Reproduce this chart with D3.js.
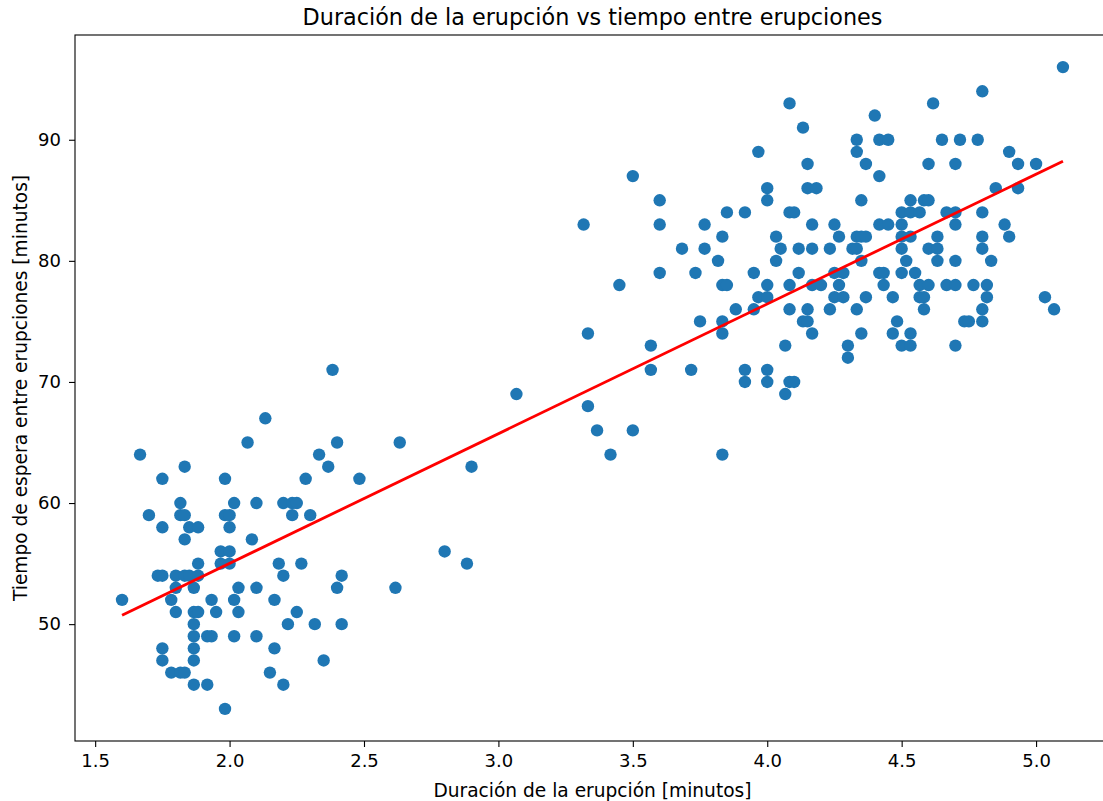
<!DOCTYPE html>
<html>
<head>
<meta charset="utf-8">
<script src="https://cdn.jsdelivr.net/npm/d3@7"></script>
<style>
  html, body { margin: 0; padding: 0; background: #fff; }
  svg { display: block; font-family: "DejaVu Sans", sans-serif; }
</style>
</head>
<body>
<div id="chart"></div>
<script>
// ── Old Faithful: duración vs espera ──

// valores (duración en minutos, espera en minutos)
const duracion = [
  1.600, 1.667, 1.700, 1.733, 1.750, 1.750, 1.750, 1.750, 1.750,
  1.783, 1.783, 1.800, 1.800, 1.800, 1.817, 1.817, 1.817, 1.833, 1.833, 1.833, 1.833, 1.833,
  1.850, 1.850, 1.867, 1.867, 1.867, 1.867, 1.867, 1.867, 1.867, 1.883, 1.883, 1.883, 1.883,
  1.917, 1.917, 1.933, 1.933, 1.950, 1.967, 1.967, 1.983, 1.983, 1.983, 2.000, 2.000, 2.000, 2.000,
  2.017, 2.017, 2.017, 2.033, 2.033, 2.067, 2.083, 2.100, 2.100, 2.100, 2.133, 2.150, 2.167, 2.167,
  2.183, 2.200, 2.200, 2.200, 2.217, 2.233, 2.233, 2.250, 2.250, 2.267, 2.283, 2.300, 2.317, 2.333,
  2.350, 2.367, 2.383, 2.400, 2.400, 2.417, 2.417, 2.483, 2.617, 2.633, 2.800, 2.883, 2.900, 3.067,
  3.317, 3.333, 3.333, 3.367, 3.417, 3.450, 3.500, 3.500, 3.567, 3.567, 3.600, 3.600, 3.600, 3.683,
  3.717, 3.733, 3.750, 3.767, 3.767, 3.817, 3.833, 3.833, 3.833, 3.833, 3.833, 3.850, 3.850, 3.883,
  3.917, 3.917, 3.917, 3.950, 3.950, 3.967, 3.967, 4.000, 4.000, 4.000, 4.000, 4.000, 4.000, 4.033,
  4.033, 4.050, 4.067, 4.067, 4.083, 4.083, 4.083, 4.083, 4.083, 4.100, 4.100, 4.117, 4.117, 4.133,
  4.133, 4.150, 4.150, 4.150, 4.150, 4.167, 4.167, 4.167, 4.167, 4.183, 4.200, 4.233, 4.233, 4.250,
  4.250, 4.250, 4.267, 4.267, 4.283, 4.283, 4.300, 4.300, 4.317, 4.333, 4.333, 4.333, 4.333, 4.333,
  4.350, 4.350, 4.350, 4.350, 4.367, 4.367, 4.367, 4.400, 4.417, 4.417, 4.417, 4.417, 4.433, 4.433,
  4.450, 4.450, 4.467, 4.467, 4.483, 4.500, 4.500, 4.500, 4.500, 4.500, 4.500, 4.517, 4.533, 4.533,
  4.533, 4.533, 4.533, 4.550, 4.567, 4.567, 4.567, 4.583, 4.583, 4.583, 4.600, 4.600, 4.600, 4.600,
  4.617, 4.633, 4.633, 4.633, 4.650, 4.667, 4.667, 4.700, 4.700, 4.700, 4.700, 4.700, 4.700, 4.717,
  4.733, 4.750, 4.767, 4.783, 4.800, 4.800, 4.800, 4.800, 4.800, 4.800, 4.817, 4.817, 4.833, 4.850,
  4.883, 4.900, 4.900, 4.933, 4.933, 5.000, 5.033, 5.067, 5.100
];
const espera = [
  52, 64, 59, 54, 54, 62, 58, 48, 47,
  52, 46, 54, 53, 51, 60, 59, 46, 54, 59, 63, 57, 46,
  54, 58, 53, 51, 50, 49, 48, 47, 45, 54, 58, 55, 51,
  49, 45, 52, 49, 51, 56, 55, 62, 59, 43, 59, 58, 56, 55,
  60, 52, 49, 53, 51, 65, 57, 60, 53, 49, 67, 46, 52, 48,
  55, 54, 60, 45, 50, 59, 60, 60, 51, 55, 62, 59, 50, 64,
  47, 63, 71, 65, 53, 54, 50, 62, 53, 65, 56, 55, 63, 69,
  83, 74, 68, 66, 64, 78, 87, 66, 73, 71, 85, 83, 79, 81,
  71, 79, 75, 83, 81, 80, 82, 78, 75, 74, 64, 84, 78, 76,
  84, 71, 70, 79, 76, 89, 77, 86, 85, 78, 77, 71, 70, 82,
  80, 81, 73, 69, 93, 84, 78, 76, 70, 84, 70, 79, 81, 91,
  75, 88, 86, 76, 75, 83, 81, 78, 74, 86, 78, 81, 76, 83,
  79, 77, 82, 78, 79, 77, 73, 72, 81, 90, 89, 82, 81, 76,
  85, 82, 80, 74, 88, 82, 77, 92, 90, 87, 83, 79, 79, 78,
  90, 83, 77, 74, 75, 84, 83, 82, 81, 79, 73, 80, 85, 84,
  82, 74, 73, 79, 84, 78, 77, 85, 77, 76, 88, 85, 81, 78,
  93, 82, 81, 80, 90, 84, 78, 88, 84, 83, 80, 78, 73, 90,
  75, 75, 78, 90, 94, 84, 82, 81, 76, 75, 78, 77, 80, 86,
  83, 89, 82, 88, 86, 88, 77, 76, 96
];

const xTicks = [1.5, 2.0, 2.5, 3.0, 3.5, 4.0, 4.5, 5.0];
const yTicks = [50, 60, 70, 80, 90];

const titulo = 'Duración de la erupción vs tiempo entre erupciones';
const xTitulo = 'Duración de la erupción [minutos]';
const yTitulo = 'Tiempo de espera entre erupciones [minutos]';

const width = 1103, height = 801;
const plot = { left: 75, right: 1110, top: 35, bottom: 741 };

const svg = d3.select('#chart')
  .append('svg')
  .attr('width', width)
  .attr('height', height);

// matplotlib-style margins: 5% of data span
const xExt = d3.extent(duracion), yExt = d3.extent(espera);
const xPad = (xExt[1] - xExt[0]) * 0.05, yPad = (yExt[1] - yExt[0]) * 0.05;

const x = d3.scaleLinear()
  .domain([xExt[0] - xPad, xExt[1] + xPad])
  .range([plot.left, plot.right]);
const y = d3.scaleLinear()
  .domain([yExt[0] - yPad, yExt[1] + yPad])
  .range([plot.bottom, plot.top]);

const puntos = duracion.map((d, i) => ({ x: d, y: espera[i] }));

// least squares fit
const mx = d3.mean(duracion), my = d3.mean(espera);
const sxy = d3.sum(puntos, p => (p.x - mx) * (p.y - my));
const sxx = d3.sum(puntos, p => (p.x - mx) ** 2);
const pendiente = sxy / sxx;
const corte = my - pendiente * mx;
const lineaX = [xExt[0], xExt[1]];

svg.append('defs').append('clipPath').attr('id', 'clip')
  .append('rect')
  .attr('x', plot.left).attr('y', plot.top)
  .attr('width', plot.right - plot.left).attr('height', plot.bottom - plot.top);

const g = svg.append('g').attr('clip-path', 'url(#clip)');

g.append('g')
  .selectAll('circle')
  .data(puntos)
  .join('circle')
  .attr('cx', d => x(d.x))
  .attr('cy', d => y(d.y))
  .attr('r', 6.2)
  .attr('fill', '#1f77b4');

g.append('path')
  .datum(lineaX)
  .attr('fill', 'none')
  .attr('stroke', '#ff0000')
  .attr('stroke-width', 2.8)
  .attr('d', d3.line().x(d => x(d)).y(d => y(corte + pendiente * d)));

// Axes
const xAxis = svg.append('g')
  .attr('transform', `translate(0,${plot.bottom})`)
  .call(d3.axisBottom(x).tickValues(xTicks).tickFormat(d3.format('.1f')).tickSize(6).tickPadding(7));
const yAxis = svg.append('g')
  .attr('transform', `translate(${plot.left},0)`)
  .call(d3.axisLeft(y).tickValues(yTicks).tickFormat(d3.format('d')).tickSize(6).tickPadding(8));

[xAxis, yAxis].forEach(a => {
  a.select('.domain').remove();
  a.selectAll('line').attr('stroke', '#000').attr('stroke-width', 1.1);
  a.selectAll('text').attr('fill', '#000').style('font-size', '18px')
    .style('font-family', '"DejaVu Sans", sans-serif');
});

// Spines (left, bottom, top; right falls off the canvas)
svg.append('rect')
  .attr('x', plot.left).attr('y', plot.top)
  .attr('width', plot.right - plot.left).attr('height', plot.bottom - plot.top)
  .attr('fill', 'none').attr('stroke', '#000').attr('stroke-width', 1.1);

// Titles
svg.append('text')
  .attr('x', (plot.left + plot.right) / 2).attr('y', 25)
  .attr('text-anchor', 'middle')
  .style('font-size', '22.3px')
  .text(titulo);

svg.append('text')
  .attr('x', (plot.left + plot.right) / 2).attr('y', 797)
  .attr('text-anchor', 'middle')
  .style('font-size', '18.6px')
  .text(xTitulo);

svg.append('text')
  .attr('transform', `translate(27,${(plot.top + plot.bottom) / 2}) rotate(-90)`)
  .attr('text-anchor', 'middle')
  .style('font-size', '18.6px')
  .text(yTitulo);
</script>
</body>
</html>
